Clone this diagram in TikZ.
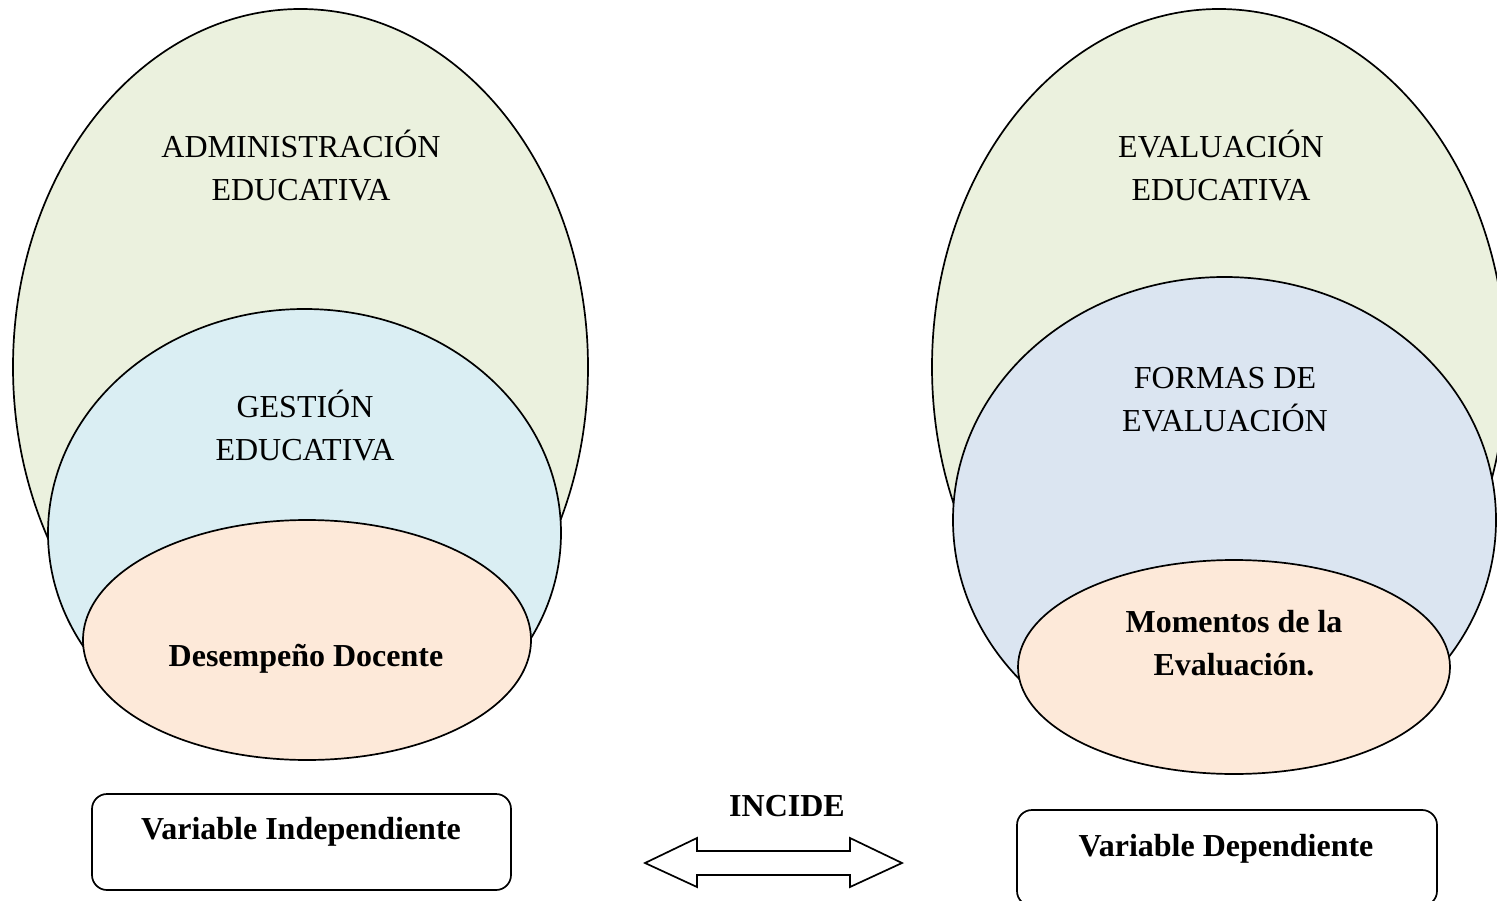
\documentclass[tikz,border=0pt]{standalone}
\usepackage{fontspec}
\setmainfont{Liberation Serif}
\usetikzlibrary{shapes.geometric}
\definecolor{olivefill}{HTML}{EBF1DE}
\definecolor{aquafill}{HTML}{DAEEF3}
\definecolor{bluefill}{HTML}{DBE5F1}
\definecolor{orangefill}{HTML}{FDE9D9}
\begin{document}
\begin{tikzpicture}[x=1pt,y=-1pt,
  oval/.style={ellipse, draw=black, line width=1.7pt, inner sep=0pt},
  lbl/.style={align=center, font=\fontsize{32}{43}\selectfont, inner sep=0pt},
  blbl/.style={align=center, font=\fontsize{32}{43}\selectfont\bfseries, inner sep=0pt},
  varbox/.style={draw=black, line width=1.7pt, rounded corners=15pt, inner sep=0pt, fill=white}]
\useasboundingbox (0,0) rectangle (1497,901);
\clip (0,0) rectangle (1497,901);
% left group
\node[oval, fill=olivefill, minimum width=575pt, minimum height=716pt] (adm) at (300.5,367) {};
\node[oval, fill=aquafill, minimum width=513pt, minimum height=448pt] (ges) at (304.5,533) {};
\node[oval, fill=orangefill, minimum width=448pt, minimum height=240pt] (des) at (307,640) {};
\node[lbl] (admt) at (301,166) {ADMINISTRACIÓN\\EDUCATIVA};
\node[lbl] (gest) at (305,426) {GESTIÓN\\EDUCATIVA};
\node[blbl] (dest) at (306,659) {Desempeño Docente};
% right group
\node[oval, fill=olivefill, minimum width=574pt, minimum height=716pt] (eva) at (1219,367) {};
\node[oval, fill=bluefill, minimum width=543pt, minimum height=486pt] (for) at (1224.5,520) {};
\node[oval, fill=orangefill, minimum width=432pt, minimum height=214pt] (mom) at (1234,667) {};
\node[lbl] (evat) at (1221,166) {EVALUACIÓN\\EDUCATIVA};
\node[lbl] (fort) at (1225,400) {FORMAS DE\\EVALUACIÓN};
\node[blbl] (momt) at (1234,643) {Momentos de la\\Evaluación.};
% boxes
\node[varbox, minimum width=419pt, minimum height=96pt] (vi) at (301.5,842) {};
\node[blbl] (vit) at (301,832) {Variable Independiente};
\node[varbox, minimum width=420pt, minimum height=96pt] (vd) at (1227,858) {};
\node[blbl] (vdt) at (1226,849) {Variable Dependiente};
% arrow
\node[blbl] (inc) at (787,806) {INCIDE};
\draw[line width=1.7pt, fill=white, line join=miter]
  (645,863) -- (697,838) -- (697,851) -- (850,851) -- (850,838) -- (902,863)
  -- (850,887) -- (850,875) -- (697,875) -- (697,887) -- cycle;
\end{tikzpicture}
\end{document}
